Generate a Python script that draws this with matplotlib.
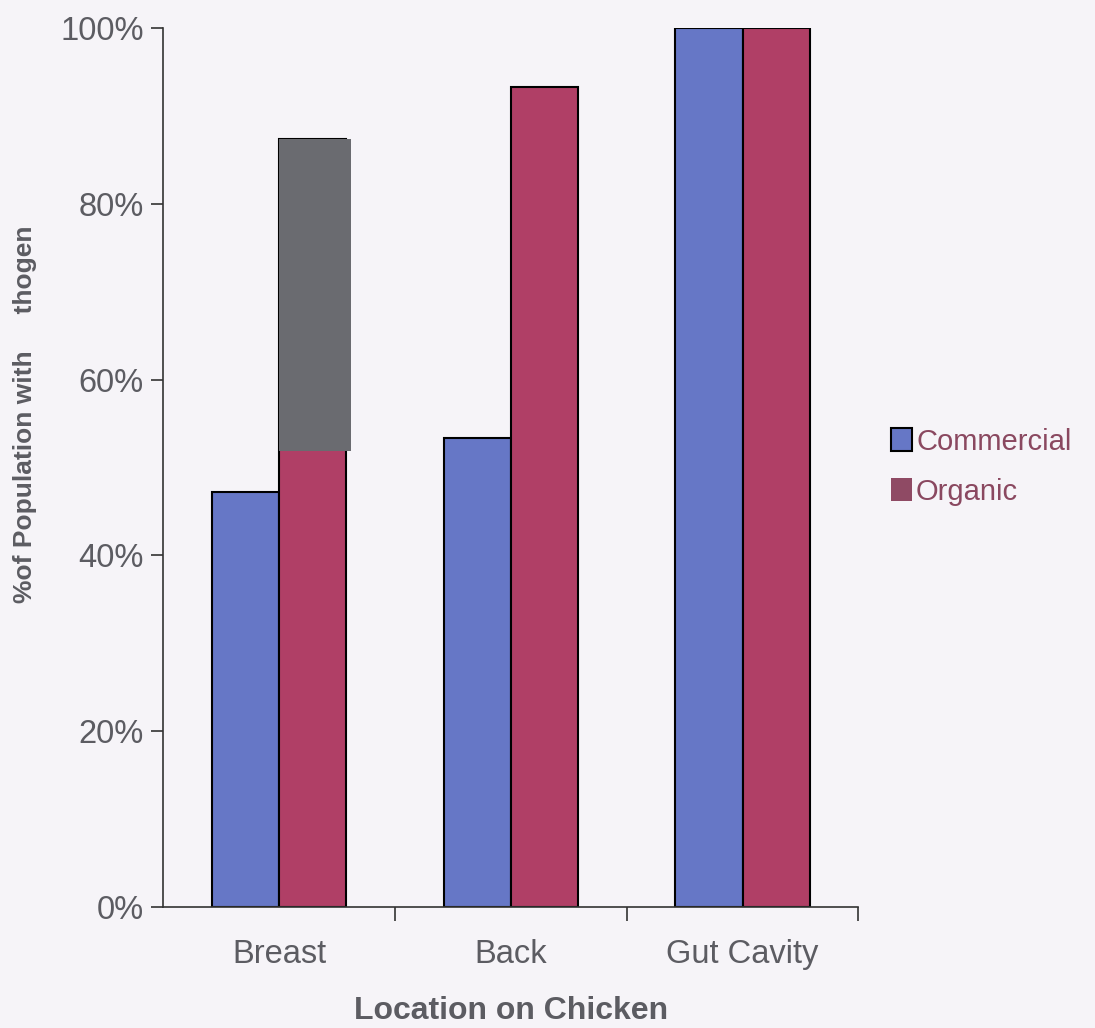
import numpy as np
import matplotlib
matplotlib.use("Agg")
import matplotlib.pyplot as plt
from matplotlib.ticker import FuncFormatter

# data (percent)
locations = ["Breast", "Back", "Gut Cavity"]
commercial = [47.2, 53.4, 100]
organic = [87.4, 93.3, 100]
# grey block pasted over the Breast organic bar in the scan
covered_from = [51.9, 0, 0]
yticks = [0, 20, 40, 60, 80, 100]

bg = "#f6f4f8"
blue = "#6677c6"
red = "#b03f66"
grey_txt = "#5c5c62"

plt.rcParams['font.family'] = ['Liberation Sans', 'DejaVu Sans']

fig = plt.figure(figsize=(10.95, 10.28), dpi=100, facecolor=bg)
ax = fig.add_axes([0.149, 0.1177, 0.635, 0.855], facecolor=bg)

x = np.arange(len(locations))
w = 0.29
ax.bar(x - w/2, commercial, w, color=blue, edgecolor="black", linewidth=1.5, label="Commercial")
ax.bar(x + w/2, organic, w, color=red, edgecolor="black", linewidth=1.5, label="Organic")

# the grey patch
for i in range(len(locations)):
    if covered_from[i] > 0:
        ax.bar(x[i] + w/2 + 0.01, organic[i] - covered_from[i], w + 0.02,
               bottom=covered_from[i], color="#6a6b70", linewidth=0, zorder=3)

ax.set_xlim(-0.5, len(locations) - 0.5)
ax.set_ylim(0, 100)
ax.set_yticks(yticks)
ax.yaxis.set_major_formatter(FuncFormatter(lambda v, p: "%d%%" % v))
ax.set_xticks(x)
ax.set_xticklabels(locations)
ax.set_xticks(np.arange(len(locations)) + 0.5, minor=True)
ax.tick_params(axis="x", which="major", length=0, pad=23, labelsize=23.5, labelcolor=grey_txt)
ax.tick_params(axis="x", which="minor", length=10, width=1.2, direction="out", color="#333333")
ax.tick_params(axis="y", length=9, width=1.2, pad=5, labelsize=23.5, labelcolor=grey_txt, color="#333333")

for s in ["top", "right"]:
    ax.spines[s].set_visible(False)
ax.spines["left"].set_color("#333333")
ax.spines["bottom"].set_color("#333333")
ax.spines["left"].set_linewidth(1.2)
ax.spines["bottom"].set_linewidth(1.2)

fig.text(0.467, 0.0165, "Location on Chicken", ha="center", va="center",
         fontsize=23, fontweight="bold", color=grey_txt)
fig.text(0.023, 0.597, "%of Population with     thogen", rotation=90, ha="center", va="center",
         fontsize=19, fontweight="bold", color=grey_txt)

leg = fig.legend(loc="center left", bbox_to_anchor=(0.79, 0.546), frameon=False,
                 fontsize=21, handlelength=0.7, handleheight=0.8, handletextpad=0.15,
                 labelspacing=0.75)
for t in leg.get_texts():
    t.set_color("#8a4860")
leg.legend_handles[1].set_edgecolor("none")
leg.legend_handles[1].set_facecolor("#8f4a64")

fig.savefig("out.png", dpi=100, facecolor=bg)
